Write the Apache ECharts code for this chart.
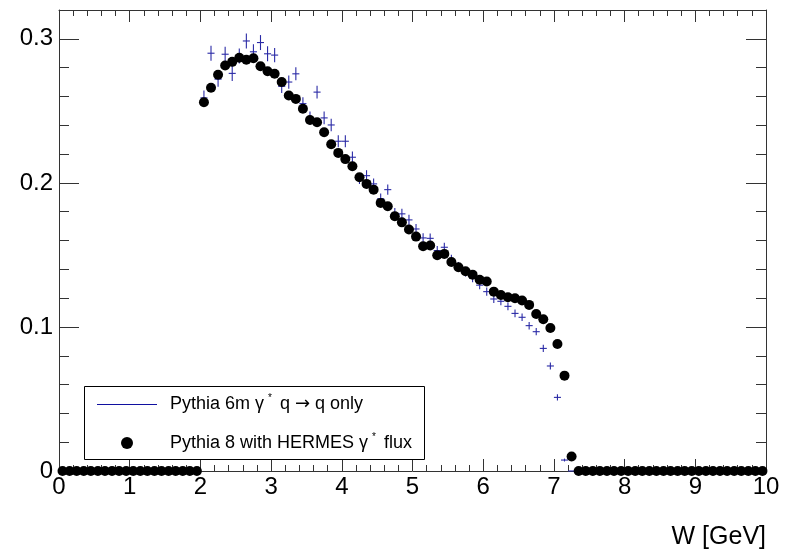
<!DOCTYPE html>
<html><head><meta charset="utf-8">
<script src="https://cdn.jsdelivr.net/npm/echarts@6/dist/echarts.min.js"></script>
<style>html,body{margin:0;padding:0;background:#fff}#c{width:796px;height:551px}</style>
</head><body><div id="c"></div>
<script>
// W bin centres (bin width 0.1 GeV)
const binCenters = [
0.05,0.15,0.25,0.35,0.45,0.55,0.65,0.75,0.85,0.95,
1.05,1.15,1.25,1.35,1.45,1.55,1.65,1.75,1.85,1.95,
2.05,2.15,2.25,2.35,2.45,2.55,2.65,2.75,2.85,2.95,
3.05,3.15,3.25,3.35,3.45,3.55,3.65,3.75,3.85,3.95,
4.05,4.15,4.25,4.35,4.45,4.55,4.65,4.75,4.85,4.95,
5.05,5.15,5.25,5.35,5.45,5.55,5.65,5.75,5.85,5.95,
6.05,6.15,6.25,6.35,6.45,6.55,6.65,6.75,6.85,6.95,
7.05,7.15,7.25,7.35,7.45,7.55,7.65,7.75,7.85,7.95,
8.05,8.15,8.25,8.35,8.45,8.55,8.65,8.75,8.85,8.95,
9.05,9.15,9.25,9.35,9.45,9.55,9.65,9.75,9.85,9.95];
const BIN_WIDTH = 0.1;

// Pythia 8 with HERMES gamma* flux (black dots)
const pythia8 = [
0,0,0,0,0,0,0,0,0,0,
0,0,0,0,0,0,0,0,0,0,
0.256,0.266,0.275,0.2815,0.284,0.2868,0.2855,0.2865,0.281,0.2775,
0.2757,0.270,0.2606,0.2583,0.2514,0.2437,0.2421,0.2351,0.2268,0.2208,
0.2165,0.2115,0.2039,0.1993,0.1953,0.1861,0.1838,0.1768,0.1726,0.1676,
0.1627,0.156,0.1565,0.1497,0.1507,0.1451,0.1414,0.1386,0.1363,0.1328,
0.1315,0.1245,0.1222,0.1206,0.1199,0.1183,0.1153,0.109,0.1053,0.0993,
0.0882,0.0662,0.0101,0,0,0,0,0,0,0,
0,0,0,0,0,0,0,0,0,0,
0,0,0,0,0,0,0,0,0,0];

// Pythia 6m gamma* q -> q only (blue crosses)
const pythia6 = [
0,0,0,0,0,0,0,0,0,0,
0,0,0,0,0,0,0,0,0,0,
0.259,0.290,0.272,0.2893,0.276,0.288,0.2985,0.291,0.2974,0.2896,
0.2887,0.267,0.270,0.2757,0.255,0.245,0.263,0.2451,0.2402,0.2289,
0.2289,0.2178,0.203,0.205,0.1993,0.189,0.1953,0.179,0.1785,0.1743,
0.168,0.1618,0.1615,0.153,0.1553,0.147,0.142,0.138,0.134,0.129,
0.1245,0.1194,0.1178,0.1143,0.1094,0.1067,0.1009,0.0967,0.0851,0.0729,
0.0511,0.0076,0,0,0,0,0,0,0,0,
0,0,0,0,0,0,0,0,0,0,
0,0,0,0,0,0,0,0,0,0];

const pythia6Err = [
0,0,0,0,0,0,0,0,0,0,
0,0,0,0,0,0,0,0,0,0,
0.0052,0.0052,0.0052,0.0052,0.0052,0.0052,0.0052,0.0052,0.0052,0.0052,
0.0050,0.0046,0.0046,0.0045,0.0045,0.0045,0.0044,0.0044,0.0043,0.0042,
0.0041,0.0040,0.0038,0.0038,0.0037,0.0037,0.0036,0.0036,0.0035,0.0035,
0.0034,0.0033,0.0033,0.0032,0.0032,0.0031,0.0031,0.0030,0.0030,0.0029,
0.0029,0.0028,0.0028,0.0027,0.0027,0.0026,0.0026,0.0025,0.0025,0.0024,
0.0022,0.0010,0,0,0,0,0,0,0,0,
0,0,0,0,0,0,0,0,0,0,
0,0,0,0,0,0,0,0,0,0];

const X_MIN = 0, X_MAX = 10, Y_MIN = 0, Y_MAX = 0.32;
const xTitle = 'W [GeV]';
const legend6 = ['Pythia 6m γ', '*', ' q ', '→', ' q only'];
const legend8 = ['Pythia 8 with HERMES γ', '*', ' flux'];

const FONT = 'Liberation Sans, Arial, Helvetica, sans-serif';
const AX = '#333';
const BLUE = '#2a2aa6';

const chart = echarts.init(document.getElementById('c'), null, {renderer: 'canvas'});

const dotData = binCenters.map((x, i) => [x, pythia8[i]]);
const crossData = binCenters.map((x, i) => [x, pythia6[i], pythia6Err[i]]);

function xAxisBase(pos, showLabel) {
  return {
    type: 'value', min: X_MIN, max: X_MAX, interval: 1, position: pos,
    axisLine: {show: true, onZero: false, lineStyle: {color: AX, width: 1}},
    axisTick: {show: true, inside: true, length: 12, lineStyle: {color: AX}},
    minorTick: {show: true, splitNumber: 5, length: 6, lineStyle: {color: AX}},
    splitLine: {show: false}, minorSplitLine: {show: false},
    axisLabel: {show: showLabel, fontSize: 24, fontFamily: FONT, color: '#000', margin: 4}
  };
}
function yAxisMajor(pos, showLabel) {
  return {
    type: 'value', min: Y_MIN, max: Y_MAX, interval: 0.1, position: pos,
    axisLine: {show: true, onZero: false, lineStyle: {color: AX, width: 1}},
    axisTick: {show: true, inside: true, length: 20, lineStyle: {color: AX}},
    splitLine: {show: false},
    axisLabel: {show: showLabel, showMaxLabel: false, fontSize: 24, fontFamily: FONT, color: '#000', margin: 6}
  };
}
function yAxisMinor(pos) {
  return {
    type: 'value', min: Y_MIN, max: Y_MAX, interval: 0.02, position: pos,
    axisLine: {show: false, onZero: false},
    axisTick: {show: true, inside: true, length: 10, lineStyle: {color: AX}},
    splitLine: {show: false},
    axisLabel: {show: false}
  };
}

const richStyle = {
  a: {fontSize: 18, fontFamily: FONT, fill: '#000', lineHeight: 22},
  s: {fontSize: 10, fontFamily: FONT, fill: '#000', verticalAlign: 'top', padding: [0, 3, 0, 4]},
  r: {fontSize: 18, fontFamily: 'DejaVu Sans', fill: '#000', lineHeight: 22}
};

const option = {
  animation: false,
  backgroundColor: '#fff',
  title: {text: xTitle, right: 30, top: 524, padding: 0,
    textStyle: {fontSize: 25, fontWeight: 'normal', fontFamily: FONT, color: '#000', lineHeight: 26}},
  grid: {left: 59, right: 30, top: 10, bottom: 80, containLabel: false, outerBoundsMode: 'none'},
  xAxis: [xAxisBase('bottom', true), xAxisBase('top', false)],
  yAxis: [yAxisMajor('left', true), yAxisMajor('right', false), yAxisMinor('left'), yAxisMinor('right')],
  series: [
    {
      name: 'Pythia 6m', type: 'custom', xAxisIndex: 0, yAxisIndex: 0, z: 2, clip: false,
      data: crossData,
      renderItem: function (params, api) {
        const x = api.value(0), y = api.value(1), e = api.value(2);
        const pL = api.coord([x - BIN_WIDTH / 2, y]);
        const pR = api.coord([x + BIN_WIDTH / 2, y]);
        const pT = api.coord([x, y + e]);
        const pB = api.coord([x, y - e]);
        return {type: 'group', children: [
          {type: 'line', shape: {x1: pL[0], y1: pL[1], x2: pR[0], y2: pR[1]}, style: {stroke: BLUE, lineWidth: 1.1}},
          {type: 'line', shape: {x1: pT[0], y1: pT[1], x2: pB[0], y2: pB[1]}, style: {stroke: BLUE, lineWidth: 1.1}}
        ]};
      }
    },
    {
      name: 'Pythia 8', type: 'scatter', xAxisIndex: 0, yAxisIndex: 0, z: 3, clip: false,
      symbol: 'circle', symbolSize: 10,
      itemStyle: {color: '#000', opacity: 1},
      data: dotData
    }
  ],
  graphic: [
    {type: 'rect', z: 10, shape: {x: 84.5, y: 386.5, width: 340, height: 73}, style: {fill: '#fff', stroke: '#000', lineWidth: 1}},
    {type: 'line', z: 11, shape: {x1: 97, y1: 404.5, x2: 157, y2: 404.5}, style: {stroke: '#1010a0', lineWidth: 1}},
    {type: 'circle', z: 11, shape: {cx: 127, cy: 443, r: 6}, style: {fill: '#000'}},
    {type: 'text', z: 11, x: 170, y: 404, style: {
      text: '{a|' + legend6[0] + '}{s|' + legend6[1] + '}{a|' + legend6[2] + '}{r|' + legend6[3] + '}{a|' + legend6[4] + '}',
      verticalAlign: 'middle', align: 'left', rich: richStyle
    }},
    {type: 'text', z: 11, x: 170, y: 443, style: {
      text: '{a|' + legend8[0] + '}{s|' + legend8[1] + '}{a|' + legend8[2] + '}',
      verticalAlign: 'middle', align: 'left', rich: richStyle
    }}
  ]
};
chart.setOption(option);
</script></body></html>
